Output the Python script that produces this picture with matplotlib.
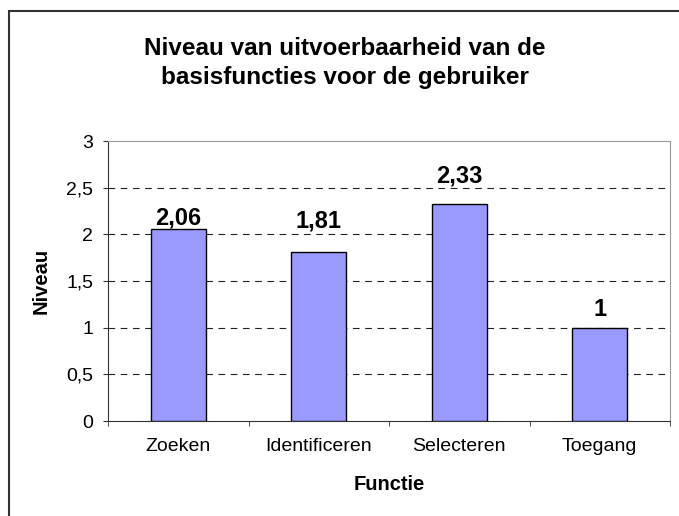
import matplotlib
matplotlib.use("Agg")
import matplotlib.pyplot as plt
from matplotlib.patches import Rectangle

categories = ["Zoeken", "Identificeren", "Selecteren", "Toegang"]
values = [2.06, 1.81, 2.33, 1.0]
value_labels = ["2,06", "1,81", "2,33", "1"]
yticks = [0, 0.5, 1, 1.5, 2, 2.5, 3]
ytick_labels = ["0", "0,5", "1", "1,5", "2", "2,5", "3"]

# vertical gap (pixels) between bar top and label baseline, as in the reference
label_gap_px = [4, 25, 21, 12]

plt.rcParams['font.family'] = ['Liberation Sans', 'DejaVu Sans']

W, H = 679, 516
fig = plt.figure(figsize=(W / 100, H / 100), dpi=100)
fig.patches.append(Rectangle((9 / W, -0.01), 1.0, 1 - 11 / H + 0.01,
                             transform=fig.transFigure, fill=False,
                             edgecolor="#333333", linewidth=1.5))

ax = fig.add_axes([108 / W, 1 - 421 / H, (670 - 108) / W, (421 - 141) / H])
x = list(range(len(categories)))
ax.bar(x, values, width=0.39, color="#9999FF", edgecolor="black", linewidth=1, zorder=3)
ax.set_xlim(-0.5, len(categories) - 0.5)
ax.set_ylim(0, 3)

ax.set_yticks(yticks)
ax.set_yticklabels(ytick_labels, fontsize=14)
ax.set_xticks(x)
ax.set_xticklabels(categories, fontsize=14)
ax.tick_params(axis="x", length=0, pad=12.5)
ax.set_xticks([i + 0.5 for i in range(-1, len(categories))], minor=True)
ax.tick_params(axis="x", which="minor", length=3.6, direction="out", color="#333333")
ax.tick_params(axis="y", length=3.6, direction="out", color="#333333", pad=7)

for yv in yticks[1:-1]:
    ax.axhline(yv, color="#222222", linestyle=(0, (6, 5)), linewidth=0.8, zorder=1)

for sp in ["top", "right"]:
    ax.spines[sp].set_color("#999999")
for sp in ["left", "bottom"]:
    ax.spines[sp].set_color("#333333")

for xi, v, lab, gap in zip(x, values, value_labels, label_gap_px):
    ax.annotate(lab, (xi, v), xytext=(0, gap), textcoords="offset pixels",
                ha="center", va="baseline", fontsize=17, fontweight="bold", zorder=4)

fig.text(389 / W, 1 - 485 / H, "Functie", ha="center", va="center",
         fontsize=14.5, fontweight="bold")
fig.text(41 / W, 1 - 281 / H, "Niveau", ha="center", va="center", rotation=90,
         fontsize=14.5, fontweight="bold")

fig.text(345 / W, 1 - 63 / H, "Niveau van uitvoerbaarheid van de\nbasisfuncties voor de gebruiker",
         ha="center", va="center", fontsize=17.5, fontweight="bold", linespacing=1.32)

fig.savefig("out.png", dpi=100)
